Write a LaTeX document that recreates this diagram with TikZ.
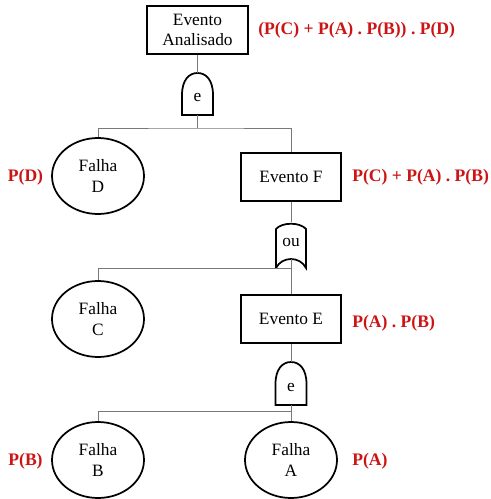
\documentclass[tikz,border=0pt]{standalone}
\usepackage{fontspec}
\setmainfont{Liberation Serif}
\usetikzlibrary{shapes.geometric}
\definecolor{lblred}{RGB}{204,20,20}
\definecolor{conn}{RGB}{120,120,120}
\begin{document}
\begin{tikzpicture}[x=0.75pt,y=-0.75pt,
  txt/.style={font=\fontsize{13}{15.5}\selectfont,align=center},
  evbox/.style={txt,draw,line width=1.3pt,minimum width=75.5pt,minimum height=36pt,inner sep=0pt},
  failell/.style={txt,ellipse,draw,line width=1.3pt,minimum width=69pt,minimum height=57pt,inner sep=0pt},
  gatebox/.style={txt,minimum width=23pt,minimum height=32pt,inner sep=0pt},
  gateline/.style={line width=1.3pt},
  wire/.style={conn,line width=0.7pt},
  prob/.style={font=\fontsize{13.2}{15.5}\bfseries\selectfont,text=lblred,inner sep=0pt}
]
\useasboundingbox (0,0) rectangle (491,499);

% events
\node[evbox] (top) at (197.5,30) {Evento\\Analisado};
\node[evbox] (f) at (291,177) {Evento F};
\node[evbox] (e) at (291,319) {Evento E};

% failures
\node[failell] (d) at (98,176) {Falha\\D};
\node[failell] (c) at (98,319) {Falha\\C};
\node[failell] (b) at (98,460) {Falha\\B};
\node[failell] (a) at (291,460) {Falha\\A};

% gates (invisible frames)
\node[gatebox] (g1) at (197.5,94) {};
\node[gatebox] (g2) at (291,244) {};
\node[gatebox] (g3) at (291,383.5) {};

% AND gate 1
\draw[gateline] (182,115) -- (182,95) .. controls (182,80) and (189,73) .. (197.5,73)
  .. controls (206,73) and (213,80) .. (213,95) -- (213,115) -- cycle;
\node[txt] at (197.5,98) {e};
% OR gate
\draw[gateline] (276,268) -- (276,229) .. controls (282,222) and (300,222) .. (306,229)
  -- (306,268) .. controls (300,256) and (282,256) .. (276,268);
\node[txt] at (291,242) {ou};
% AND gate 2
\draw[gateline] (275.5,405) -- (275.5,384) .. controls (275.5,369) and (282.5,362) .. (291,362)
  .. controls (299.5,362) and (306.5,369) .. (306.5,384) -- (306.5,405) -- cycle;
\node[txt] at (291,387) {e};

% junctions
\coordinate (j1) at (197.5,128);
\coordinate (j2) at (291,268);
\coordinate (j3) at (291,411);
\coordinate (g2in) at (291,259);

% wires
\draw[wire] (top.south) -- (g1.north |- 0,73);
\draw[wire] (197.5,115) -- (j1);
\draw[wire] (d.north) |- (j1) -| (f.north);
\draw[wire] (f.south) -- (291,222);
\draw[wire] (g2in) -- (e.north);
\draw[wire] (c.north) |- (j2);
\draw[wire] (e.south) -- (291,362);
\draw[wire] (291,405) -- (j3);
\draw[wire] (b.north) |- (j3) -- (a.north);

% probabilities
\node[prob,anchor=west] (ptop) at (258,30) {(P(C) + P(A) . P(B)) . P(D)};
\node[prob,anchor=west] (pf) at (352,177) {P(C) + P(A) . P(B)};
\node[prob,anchor=west] (pe) at (352,323) {P(A) . P(B)};
\node[prob,anchor=west] (pa) at (352,461) {P(A)};
\node[prob] (pd) at (25.5,177) {P(D)};
\node[prob] (pb) at (25.5,461) {P(B)};
\end{tikzpicture}
\end{document}
